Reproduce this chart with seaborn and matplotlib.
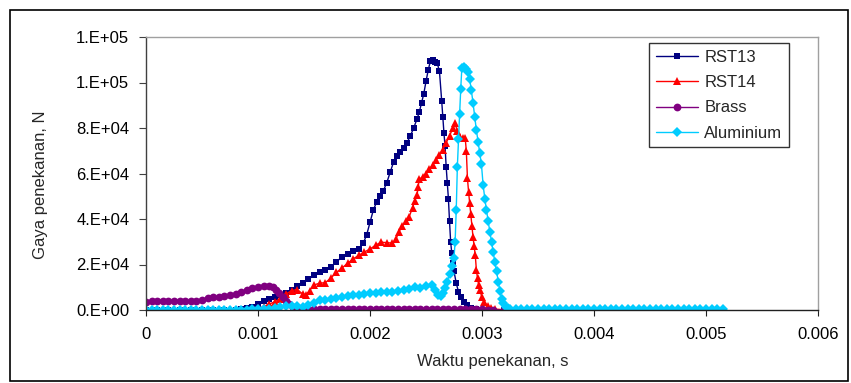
import matplotlib
matplotlib.use("Agg")
import matplotlib.pyplot as plt
from matplotlib.patches import Rectangle
from matplotlib.ticker import FuncFormatter
import seaborn as sns
import numpy as np

# waktu dalam milidetik, gaya dalam N
t_rst13 = [0, 0.1, 0.2, 0.3, 0.4, 0.5, 0.6, 0.7, 0.8, 0.85, 0.9, 0.95, 1.0, 1.05, 1.1,
           1.15, 1.2, 1.25, 1.3, 1.35, 1.4, 1.45, 1.5, 1.55, 1.6, 1.65, 1.7, 1.75, 1.8,
           1.85, 1.9, 1.94, 1.97, 2.0, 2.03, 2.06, 2.09, 2.12, 2.15, 2.18, 2.21, 2.24,
           2.27, 2.30, 2.33, 2.36, 2.39, 2.42, 2.44, 2.46, 2.48, 2.50, 2.52, 2.54, 2.56,
           2.58, 2.60, 2.62, 2.64, 2.65, 2.66, 2.67, 2.68, 2.69, 2.70, 2.71, 2.72, 2.73,
           2.74, 2.75, 2.77, 2.79, 2.81, 2.84, 2.87, 2.90, 2.95, 3.0, 3.1, 3.2, 3.3, 3.4,
           3.5, 3.6, 3.7, 3.8, 3.9, 4.0, 4.1, 4.2, 4.3, 4.4, 4.5, 4.6, 4.7, 4.8, 4.9,
           5.0, 5.1]
f_rst13 = [0, 0, 0, 0, 0, 0, 0, 0, 0, 300, 800, 1500, 2600, 3800, 5000,
           5800, 6500, 7600, 8800, 10500, 12000, 13500, 15300, 16800, 17800, 19000, 21000,
           23500, 24800, 25800, 27000, 29400, 33000, 38500, 44000, 47500, 50000, 52500,
           56000, 60500, 65000, 67500, 69500, 71000, 73500, 76500, 80000, 84000, 87000,
           91000, 95000, 100500, 105500, 109600, 109800, 109000, 108500, 105000, 92000,
           85000, 78000, 72000, 63000, 56000, 49000, 39000, 30000, 25000, 20500, 17000,
           11800, 8000, 5700, 3500, 2200, 1000, 400, 100, 0, 0, 0, 0, 0, 0, 0, 0, 0, 0,
           0, 0, 0, 0, 0, 0, 0, 0, 0, 0, 0]

t_rst14 = [0, 0.1, 0.2, 0.3, 0.4, 0.5, 0.6, 0.7, 0.8, 0.9, 0.95, 1.0, 1.05, 1.1, 1.15,
           1.2, 1.25, 1.3, 1.35, 1.4, 1.43, 1.46, 1.5, 1.55, 1.6, 1.65, 1.7, 1.75, 1.8,
           1.85, 1.9, 1.95, 2.0, 2.05, 2.1, 2.15, 2.2, 2.23, 2.26, 2.29, 2.32, 2.35, 2.38,
           2.40, 2.42, 2.43, 2.44, 2.47, 2.50, 2.53, 2.56, 2.59, 2.62, 2.65, 2.68, 2.71,
           2.74, 2.76, 2.78, 2.80, 2.83, 2.85, 2.86, 2.87, 2.88, 2.89, 2.90, 2.91, 2.92,
           2.93, 2.94, 2.95, 2.96, 2.97, 2.98, 3.0, 3.02, 3.05, 3.08, 3.12, 3.2, 3.3, 3.4,
           3.5, 3.6, 3.7, 3.8, 3.9, 4.0, 4.1, 4.2, 4.3, 4.4, 4.5, 4.6, 4.7, 4.8, 4.9,
           5.0, 5.1]
f_rst14 = [0, 0, 0, 0, 0, 0, 0, 0, 0, 0, 300, 700, 1500, 2600, 3600,
           5000, 7000, 8500, 9000, 7000, 6800, 8500, 11000, 11800, 12000, 14000, 16500,
           18500, 20500, 22500, 24000, 25500, 26800, 28500, 29800, 29600, 29400, 31000,
           34500, 37000, 39000, 41000, 45000, 48000, 50500, 54000, 57500, 58500, 60000,
           62000, 63800, 66000, 68000, 70500, 73500, 76500, 80000, 82000, 78500, 76000,
           75500, 75500, 70000, 58000, 52000, 47000, 42000, 37000, 32000, 28000, 24000,
           17500, 14000, 11000, 8800, 5500, 3500, 1800, 900, 400, 100, 0, 0, 0, 0, 0, 0,
           0, 0, 0, 0, 0, 0, 0, 0, 0, 0, 0, 0, 0]

t_brass = [0, 0.05, 0.1, 0.15, 0.2, 0.25, 0.3, 0.35, 0.4, 0.45, 0.5, 0.55, 0.6, 0.65,
           0.7, 0.75, 0.8, 0.85, 0.9, 0.95, 1.0, 1.05, 1.1, 1.13, 1.16, 1.19, 1.22, 1.25,
           1.28, 1.31, 1.35, 1.4, 1.45, 1.5, 1.55, 1.6, 1.65, 1.7, 1.75, 1.8, 1.85, 1.9,
           1.95, 2.0, 2.05, 2.1, 2.15, 2.2, 2.25, 2.3, 2.35, 2.4, 2.45, 2.5, 2.55, 2.6,
           2.65, 2.7, 2.75, 2.8, 2.85, 2.9, 2.95, 3.0, 3.05, 3.1, 3.2]
f_brass = [3400, 3800, 3900, 4000, 4100, 4000, 4100, 3900, 3800, 3900, 4200, 5200, 5800,
           5500, 6000, 6600, 7100, 7700, 8600, 9500, 10000, 10400, 10500, 10200, 9000,
           7500, 5500, 3800, 2500, 1500, 900, 700, 600, 600, 550, 550, 500, 500, 500, 500,
           500, 500, 500, 500, 450, 450, 450, 450, 450, 400, 400, 400, 400, 400, 400, 350,
           350, 350, 350, 300, 300, 300, 300, 250, 200, 100, 0]

t_alu = [0, 0.05, 0.1, 0.15, 0.2, 0.25, 0.3, 0.35, 0.4, 0.45, 0.5, 0.55, 0.6, 0.65, 0.7,
         0.75, 0.8, 0.85, 0.9, 0.95, 1.0, 1.05, 1.1, 1.15, 1.2, 1.25, 1.3, 1.35, 1.4,
         1.45, 1.5, 1.55, 1.6, 1.65, 1.7, 1.75, 1.8, 1.85, 1.9, 1.95, 2.0, 2.05, 2.1,
         2.15, 2.2, 2.25, 2.3, 2.35, 2.4, 2.45, 2.5, 2.55, 2.58, 2.61, 2.63, 2.65, 2.67,
         2.69, 2.71, 2.73, 2.75, 2.76, 2.77, 2.78, 2.79, 2.80, 2.81, 2.82, 2.84, 2.86,
         2.875, 2.89, 2.905, 2.92, 2.935, 2.95, 2.965, 2.98, 2.995, 3.01, 3.025, 3.04,
         3.055, 3.07, 3.085, 3.10, 3.115, 3.13, 3.145, 3.16, 3.175, 3.19, 3.21, 3.23,
         3.25, 3.3, 3.35, 3.4, 3.45, 3.5, 3.55, 3.6, 3.65, 3.7, 3.75, 3.8, 3.85, 3.9,
         3.95, 4.0, 4.05, 4.1, 4.15, 4.2, 4.25, 4.3, 4.35, 4.4, 4.45, 4.5, 4.55, 4.6,
         4.65, 4.7, 4.75, 4.8, 4.85, 4.9, 4.95, 5.0, 5.05, 5.1, 5.15]
f_alu = [200, 200, 200, 200, 200, 200, 200, 200, 200, 200, 200, 200, 200, 200, 200,
         200, 200, 200, 200, 250, 300, 400, 600, 900, 1300, 1700, 1900, 1700, 1500,
         2200, 3200, 4200, 4600, 5000, 5300, 5600, 6000, 6500, 6800, 7000, 7300, 7500,
         7700, 7900, 8100, 8300, 8600, 9200, 10000, 9800, 10500, 11000, 9000, 6500, 6000,
         7500, 9500, 12500, 16000, 19500, 23000, 30000, 44000, 63000, 75000, 86000,
         97000, 106500, 106800, 106000, 104500, 101500, 96500, 91000, 85000, 79000,
         74000, 69000, 64000, 55000, 49000, 44000, 39000, 34500, 30000, 25500, 21000,
         17000, 12500, 8500, 5000, 3000, 1200, 700, 500, 400, 400, 400, 400, 400, 400,
         400, 400, 400, 400, 400, 400, 400, 400, 400, 400, 400, 400, 400, 400, 400, 400,
         400, 400, 400, 400, 400, 400, 400, 400, 400, 400, 400, 400, 400, 400, 400, 400]

series = [
    ("RST13", t_rst13, f_rst13, "#000080", "s", 4.6),
    ("RST14", t_rst14, f_rst14, "#FF0000", "^", 6.0),
    ("Brass", t_brass, f_brass, "#800080", "o", 5.6),
    ("Aluminium", t_alu, f_alu, "#00CCFF", "D", 4.8),
]

sns.set_style("white")
plt.rcParams["font.family"] = ["Liberation Sans", "DejaVu Sans"]

fig = plt.figure(figsize=(8.51, 3.83), dpi=100)
ax = fig.add_axes([146 / 851, 73 / 383, 672 / 851, 273 / 383])

for name, t, f, col, mk, ms in series:
    sns.lineplot(x=np.array(t) / 1000.0, y=f, ax=ax, color=col, marker=mk,
                 markersize=ms, markeredgewidth=0, linewidth=1.0, label=name,
                 estimator=None, sort=False)

ax.set_xlim(0, 0.006)
ax.set_ylim(0, 120000)
ax.set_xticks([0, 0.001, 0.002, 0.003, 0.004, 0.005, 0.006])
ax.set_xticklabels(["0", "0.001", "0.002", "0.003", "0.004", "0.005", "0.006"])
ax.set_yticks(np.arange(0, 120001, 20000))
ax.yaxis.set_major_formatter(FuncFormatter(lambda v, p: "{:#.0E}".format(v)))

ax.tick_params(axis="both", labelsize=12, colors="#000000", direction="out")
ax.tick_params(axis="y", length=5, pad=7, color="#404040", left=True)
ax.tick_params(axis="x", length=4, pad=8, color="#202020", bottom=True)

ax.spines["left"].set_color("#404040")
ax.spines["bottom"].set_color("#202020")
ax.spines["top"].set_color("#A0A0A0")
ax.spines["right"].set_color("#A0A0A0")
for s in ax.spines.values():
    s.set_linewidth(1.0)
    s.set_visible(True)

ax.set_ylabel("Gaya penekanan, N", fontsize=12)
ax.set_xlabel("Waktu penekanan, s", fontsize=12)
ax.yaxis.set_label_coords(-0.146, 0.46)
ax.xaxis.set_label_coords(0.516, -0.16)

leg = ax.legend(loc="upper right", bbox_to_anchor=(0.957, 0.978), borderaxespad=0,
                fontsize=12, frameon=True, fancybox=False, shadow=False,
                handlelength=2.5, labelspacing=0.62, handletextpad=0.4,
                borderpad=0.4)
leg.get_frame().set_edgecolor("#000000")
leg.get_frame().set_linewidth(1.0)

fig.patches.append(Rectangle((10 / 851, 2 / 383), 838 / 851, 371 / 383,
                             transform=fig.transFigure, fill=False,
                             edgecolor="#000000", linewidth=1.2))

plt.savefig("out.png", dpi=100)
plt.close()
